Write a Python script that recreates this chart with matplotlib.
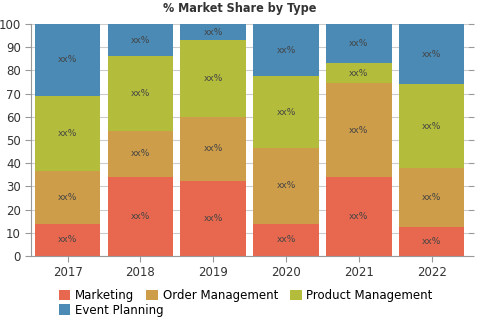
import matplotlib.pyplot as plt
import numpy as np

years = ["2017", "2018", "2019", "2020", "2021", "2022"]
marketing = [14, 34, 32.5, 14, 34, 12.5]
order_mgmt = [22.5, 20, 27.5, 32.5, 40.5, 25.5]
product_mgmt = [32.5, 32, 33, 31, 8.5, 36]
event_planning = [31, 14, 7, 22.5, 17, 26]

series = [
    ("Marketing", marketing, "#E8684F"),
    ("Order Management", order_mgmt, "#CE9D49"),
    ("Product Management", product_mgmt, "#B4BD3B"),
    ("Event Planning", event_planning, "#4A8AB5"),
]

fig = plt.figure(figsize=(4.8, 3.2), dpi=100)
ax = fig.add_axes([0.065, 0.2, 0.91, 0.725])

x = np.arange(len(years))
bottom = np.zeros(len(years))
handles = []
for name, vals, col in series:
    vals = np.array(vals)
    h = ax.bar(x, vals, bottom=bottom, width=0.9, color=col, label=name, zorder=2)
    handles.append(h)
    for xi, b, v in zip(x, bottom, vals):
        ax.text(xi, b + v / 2, "xx%", ha="center", va="center",
                fontsize=6.5, color="#444444", zorder=3)
    bottom += vals

ax.set_xlim(-0.5, 5.5)
ax.set_ylim(0, 100)
ax.set_yticks(range(0, 101, 10))
ax.set_xticks(x)
ax.set_xticklabels(years)
ax.tick_params(axis="both", labelsize=8.5, colors="#333333", length=4, color="#999999")
ax.tick_params(axis="y", right=True)
ax.grid(axis="y", color="#cccccc", lw=0.8, zorder=0)
for s in ["top", "right"]:
    ax.spines[s].set_visible(False)
for s in ["left", "bottom"]:
    ax.spines[s].set_color("#999999")

fig.suptitle("% Market Share by Type", y=0.995, fontsize=9, fontweight="bold",
             color="#333333", fontstretch="condensed")

# legend: three items on the first row, Event Planning on the second
leg_kw = dict(loc="lower left", frameon=False, fontsize=8.5, handlelength=1.0,
              handleheight=1.0, handletextpad=0.4, columnspacing=1.0,
              borderpad=0.2)
leg1 = fig.legend(handles[:3], [s[0] for s in series[:3]], ncol=3,
                  bbox_to_anchor=(0.105, 0.03), **leg_kw)
fig.legend(handles[3:], [series[3][0]], bbox_to_anchor=(0.105, -0.015), **leg_kw)

fig.savefig("out.png", dpi=100)
